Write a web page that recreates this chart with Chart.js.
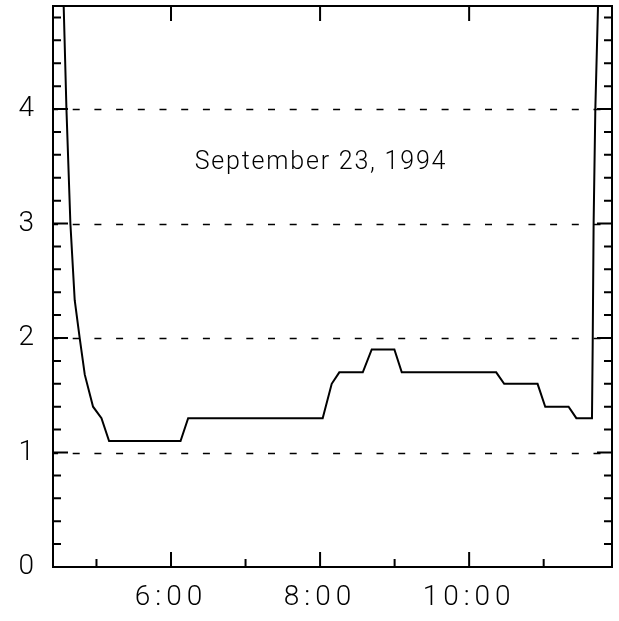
<!DOCTYPE html>
<html>
<head>
<meta charset="utf-8">
<script src="https://cdn.jsdelivr.net/npm/chart.js@4/dist/chart.umd.min.js"></script>
<style>
  html, body { margin: 0; padding: 0; background: #fff; }
  #wrap { width: 619px; height: 621px; position: relative; }
</style>
</head>
<body>
<div id="wrap"><canvas id="c"></canvas></div>
<script>
// Time of day (decimal hours) and measured value
const TIMES = [4.534, 4.560, 4.597, 4.650, 4.708, 4.775, 4.843, 4.954, 5.067, 5.169,
               6.128, 6.230, 8.035, 8.156, 8.258, 8.573, 8.693, 8.997, 9.096, 10.363,
               10.470, 10.918, 11.021, 11.334, 11.438, 11.648, 11.657, 11.670, 11.693, 11.729, 11.747];
const VALUES = [5.4, 4.9, 4.0, 3.0, 2.33, 2.0, 1.68, 1.4, 1.3, 1.1,
                1.1, 1.3, 1.3, 1.6, 1.7, 1.7, 1.9, 1.9, 1.7, 1.7,
                1.6, 1.6, 1.4, 1.4, 1.3, 1.3, 1.9, 3.0, 4.0, 4.9, 5.4];

// Axis ranges and ticks
const X_MIN = 4 + 25 / 60;
const X_MAX = 11 + 55 / 60;
const X_LABEL_HOURS = [6, 8, 10];
const X_MINOR_HOURS = [5, 7, 9, 11];
const Y_MIN = 0;
const Y_MAX = 4.9;
const Y_LABELS = [0, 1, 2, 3, 4];
const Y_GRID = [1, 2, 3, 4];
const Y_MINOR_STEP = 0.2;

const DATE_TEXT = 'September 23, 1994';
const DATE_AT = { x: 8, y: 3.53 };

const FONT_FAMILY = 'Roboto, "Liberation Sans", sans-serif';

// Dashed reference lines, inward tick marks and the box frame
const framePlugin = {
  id: 'frame',
  beforeDraw(chart) {
    chart.ctx.letterSpacing = '5px';
  },
  beforeDatasetsDraw(chart) {
    const { ctx, chartArea: a, scales: { y } } = chart;
    ctx.save();
    ctx.letterSpacing = '0px';
    ctx.strokeStyle = '#000';
    ctx.lineWidth = 1.5;
    ctx.setLineDash([7, 14.7]);
    ctx.lineDashOffset = 2;
    Y_GRID.forEach(v => {
      const py = Math.round(y.getPixelForValue(v)) + 0.5;
      ctx.beginPath();
      ctx.moveTo(a.left, py);
      ctx.lineTo(a.right, py);
      ctx.stroke();
    });
    ctx.restore();
  },
  afterDraw(chart) {
    const { ctx, chartArea: a, scales: { x, y } } = chart;
    ctx.save();
    ctx.strokeStyle = '#000';
    ctx.lineWidth = 2;
    ctx.setLineDash([]);
    const MAJ = 15, MIN = 8;
    ctx.beginPath();
    // y ticks on left and right
    for (let i = 1; i * Y_MINOR_STEP < Y_MAX; i++) {
      const v = Math.round(i * Y_MINOR_STEP * 10) / 10;
      const len = Number.isInteger(v) ? MAJ : MIN;
      const py = y.getPixelForValue(v);
      ctx.moveTo(a.left, py); ctx.lineTo(a.left + len, py);
      ctx.moveTo(a.right, py); ctx.lineTo(a.right - len, py);
    }
    // x ticks: bottom major + minor, top major
    X_LABEL_HOURS.forEach(h => {
      const px = x.getPixelForValue(h);
      ctx.moveTo(px, a.bottom); ctx.lineTo(px, a.bottom - MAJ);
      ctx.moveTo(px, a.top); ctx.lineTo(px, a.top + MAJ);
    });
    X_MINOR_HOURS.forEach(h => {
      const px = x.getPixelForValue(h);
      ctx.moveTo(px, a.bottom); ctx.lineTo(px, a.bottom - MIN);
    });
    ctx.stroke();
    ctx.strokeRect(a.left, a.top, a.right - a.left, a.bottom - a.top);

    // date annotation
    ctx.fillStyle = '#000';
    ctx.font = '300 25px ' + FONT_FAMILY;
    ctx.letterSpacing = '1.8px';
    ctx.textAlign = 'center';
    ctx.textBaseline = 'middle';
    ctx.fillText(DATE_TEXT, x.getPixelForValue(DATE_AT.x) + 0.9, y.getPixelForValue(DATE_AT.y));
    ctx.restore();
  }
};

const tickFont = { family: FONT_FAMILY, size: 28, weight: '300' };

new Chart(document.getElementById('c'), {
  type: 'line',
  data: {
    datasets: [{
      data: TIMES.map((t, i) => ({ x: t, y: VALUES[i] })),
      borderColor: '#000',
      borderWidth: 2,
      pointRadius: 0,
      tension: 0,
      fill: false
    }]
  },
  options: {
    responsive: true,
    maintainAspectRatio: false,
    animation: false,
    layout: { padding: { top: 6, right: 7, left: 0, bottom: 0 } },
    plugins: { legend: { display: false }, tooltip: { enabled: false } },
    scales: {
      x: {
        type: 'linear',
        min: X_MIN,
        max: X_MAX,
        grid: { display: false, drawTicks: false },
        border: { display: false },
        afterBuildTicks: s => { s.ticks = X_LABEL_HOURS.map(v => ({ value: v })); },
        afterFit: s => { s.height = 54; s.paddingLeft = 0; s.paddingRight = 0; },
        ticks: {
          callback: v => v + ':00',
          color: '#000',
          font: tickFont,
          padding: 14,
          maxRotation: 0,
          autoSkip: false
        }
      },
      y: {
        type: 'linear',
        min: Y_MIN,
        max: Y_MAX,
        grid: { display: false, drawTicks: false },
        border: { display: false },
        afterBuildTicks: s => { s.ticks = Y_LABELS.map(v => ({ value: v })); },
        afterFit: s => { s.width = 53; s.paddingTop = 0; s.paddingBottom = 0; },
        ticks: {
          callback: v => String(v),
          color: '#000',
          font: tickFont,
          padding: 14
        }
      }
    }
  },
  plugins: [framePlugin]
});
</script>
</body>
</html>
